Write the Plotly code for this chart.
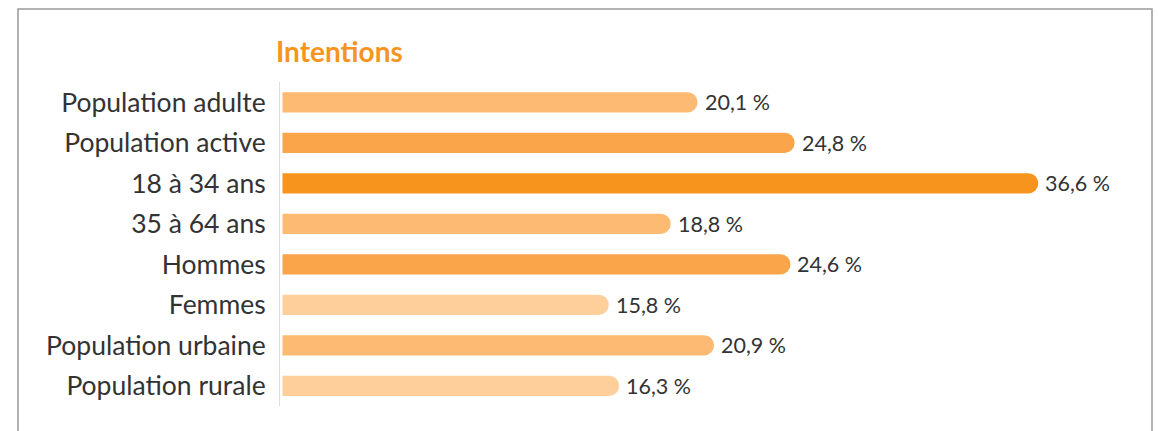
import plotly.graph_objects as go

categories = ["Population adulte", "Population active", "18 à 34 ans", "35 à 64 ans",
              "Hommes", "Femmes", "Population urbaine", "Population rurale"]
values = [20.1, 24.8, 36.6, 18.8, 24.6, 15.8, 20.9, 16.3]
labels = ["20,1 %", "24,8 %", "36,6 %", "18,8 %", "24,6 %", "15,8 %", "20,9 %", "16,3 %"]
colors = ["#FDBA73", "#FBA54A", "#F7941E", "#FDBA73", "#FBA54A", "#FECF9B", "#FDBA73", "#FECF9B"]
title = "Intentions"

W, H = 1165, 431
ml, mr, mt, mb = 280, 13, 82, 25
pw = W - ml - mr
ph = H - mt - mb
scale = 20.65
x0 = -0.12

fig = go.Figure()
fig.add_trace(go.Bar(
    x=values, y=categories, orientation="h",
    marker=dict(color=colors, line=dict(width=0), cornerradius=10),
    hoverinfo="skip",
))

for v, c, t in zip(values, categories, labels):
    fig.add_annotation(x=v, y=c, text=t, showarrow=False, xanchor="left", xshift=5,
                       font=dict(family="Lato", size=21.5, color="#333333"))

def py(p):
    return (H - mb - p) / ph

def px(p):
    return (p - ml) / pw

fig.add_annotation(xref="paper", yref="paper", x=px(274), y=py(51), text="<b>" + title + "</b>",
                   showarrow=False, xanchor="left", yanchor="middle",
                   font=dict(family="Lato", size=28, color="#F7941E"))

fig.add_shape(type="rect", xref="paper", yref="paper",
              x0=px(18), x1=px(1152), y0=py(445), y1=py(9),
              line=dict(color="#9a9a9a", width=1.5), fillcolor="rgba(0,0,0,0)", layer="below")

fig.update_layout(
    width=W, height=H,
    margin=dict(l=ml, r=mr, t=mt, b=mb),
    paper_bgcolor="white", plot_bgcolor="white",
    bargap=0.5,
    showlegend=False,
    xaxis=dict(range=[x0, x0 + pw / scale], visible=False, fixedrange=True),
    yaxis=dict(autorange="reversed", showline=True, linecolor="#dddddd", linewidth=1,
               showgrid=False, zeroline=False, ticks="", ticklabelstandoff=8,
               tickfont=dict(family="Lato", size=26.5, color="#333333")),
)

fig.write_html("out.html")
